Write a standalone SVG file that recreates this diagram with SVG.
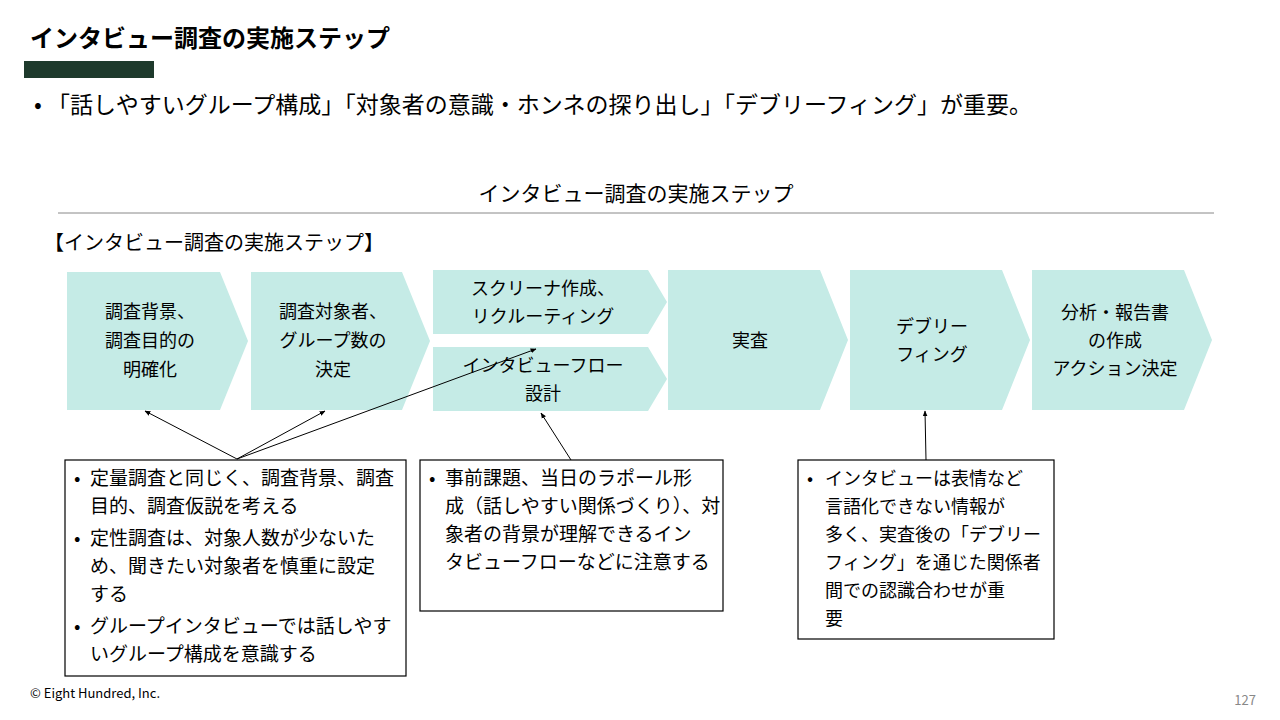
<svg xmlns="http://www.w3.org/2000/svg" width="1280" height="720" viewBox="0 0 1280 720">
<style>
text{font-family:"Noto Sans CJK JP","Noto Sans",sans-serif;fill:#000}
.n{fill:#c5ebe6}
.t{font-size:18px;text-anchor:middle}
.b{font-size:19px}
.b3{font-size:18px}
.box{fill:#fff;stroke:#000;stroke-width:1.2}
.c{stroke:#000;stroke-width:1;fill:none;marker-end:url(#a)}
</style>
<defs><marker id="a" viewBox="0 0 10 10" refX="9" refY="5" markerWidth="6" markerHeight="6" orient="auto"><path d="M0,1 L10,5 L0,9z" fill="#000"/></marker></defs>
<rect width="1280" height="720" fill="#fff"/>
<text x="30" y="47" font-size="24" font-weight="bold">インタビュー調査の実施ステップ</text>
<rect x="24" y="61" width="130" height="17" fill="#1e3a2c"/>
<text x="34" y="113" font-size="23">• 「話しやすいグループ構成」「対象者の意識・ホンネの探り出し」「デブリーフィング」が重要。</text>
<text x="636" y="201" font-size="21" text-anchor="middle">インタビュー調査の実施ステップ</text>
<line x1="58" y1="213" x2="1214" y2="213" stroke="#888" stroke-width="1"/>
<text x="44" y="250" font-size="20">【インタビュー調査の実施ステップ】</text>
<g id="n1"><path class="n" d="M67,272 H220 L248,341 L220,410 H67z"/><text class="t" x="150" y="318">調査背景、</text><text class="t" x="150" y="347">調査目的の</text><text class="t" x="150" y="376">明確化</text></g>
<g id="n2"><path class="n" d="M251,272 H402 L430,341 L402,410 H251z"/><text class="t" x="333" y="318">調査対象者、</text><text class="t" x="333" y="347">グループ数の</text><text class="t" x="333" y="376">決定</text></g>
<g id="n3"><path class="n" d="M433,270 H648 L667,302 L648,334 H433z"/><text class="t" x="543" y="295">スクリーナ作成、</text><text class="t" x="543" y="323">リクルーティング</text></g>
<g id="n4"><path class="n" d="M433,347 H648 L667,379 L648,411 H433z"/><text class="t" x="543" y="372">インタビューフロー</text><text class="t" x="543" y="400">設計</text></g>
<g id="n5"><path class="n" d="M668,270 H820 L848,340 L820,410 H668z"/><text class="t" x="750" y="347">実査</text></g>
<g id="n6"><path class="n" d="M850,270 H1002 L1030,340 L1002,410 H850z"/><text class="t" x="932" y="333">デブリー</text><text class="t" x="932" y="361">フィング</text></g>
<g id="n7"><path class="n" d="M1032,270 H1184 L1212,340 L1184,410 H1032z"/><text class="t" x="1115" y="319">分析・報告書</text><text class="t" x="1115" y="347">の作成</text><text class="t" x="1115" y="375">アクション決定</text></g>
<g id="connectors">
<line class="c" x1="237" y1="459" x2="145" y2="411"/>
<line class="c" x1="237" y1="459" x2="325" y2="411"/>
<line class="c" x1="237" y1="459" x2="536" y2="349"/>
<line class="c" x1="571" y1="460" x2="541" y2="413"/>
<line class="c" x1="926" y1="460" x2="925" y2="411"/>
</g>
<g id="b1"><rect class="box" x="65" y="460" width="341" height="216"/>
<text class="b" x="74" y="485">•</text><text class="b" x="90" y="485">定量調査と同じく、調査背景、調査</text>
<text class="b" x="90" y="513">目的、調査仮説を考える</text>
<text class="b" x="74" y="545">•</text><text class="b" x="90" y="545">定性調査は、対象人数が少ないた</text>
<text class="b" x="90" y="573">め、聞きたい対象者を慎重に設定</text>
<text class="b" x="90" y="601">する</text>
<text class="b" x="74" y="633">•</text><text class="b" x="90" y="633">グループインタビューでは話しやす</text>
<text class="b" x="90" y="661">いグループ構成を意識する</text></g>
<g id="b2"><rect class="box" x="420" y="460" width="303" height="151"/>
<text class="b" x="429" y="485">•</text><text class="b" x="445" y="485">事前課題、当日のラポール形</text>
<text class="b" x="445" y="513">成（話しやすい関係づくり）、対</text>
<text class="b" x="445" y="541">象者の背景が理解できるイン</text>
<text class="b" x="445" y="569">タビューフローなどに注意する</text></g>
<g id="b3"><rect class="box" x="798" y="460" width="256" height="179"/>
<text class="b3" x="807" y="485">•</text><text class="b3" x="825" y="485">インタビューは表情など</text>
<text class="b3" x="825" y="513">言語化できない情報が</text>
<text class="b3" x="825" y="541">多く、実査後の「デブリー</text>
<text class="b3" x="825" y="569">フィング」を通じた関係者</text>
<text class="b3" x="825" y="597">間での認識合わせが重</text>
<text class="b3" x="825" y="625">要</text></g>
<text x="30" y="698" font-size="13" font-family="Liberation Sans,sans-serif">© Eight Hundred, Inc.</text>
<text x="1256" y="705" font-size="13" text-anchor="end" style="fill:#888">127</text>
</svg>
